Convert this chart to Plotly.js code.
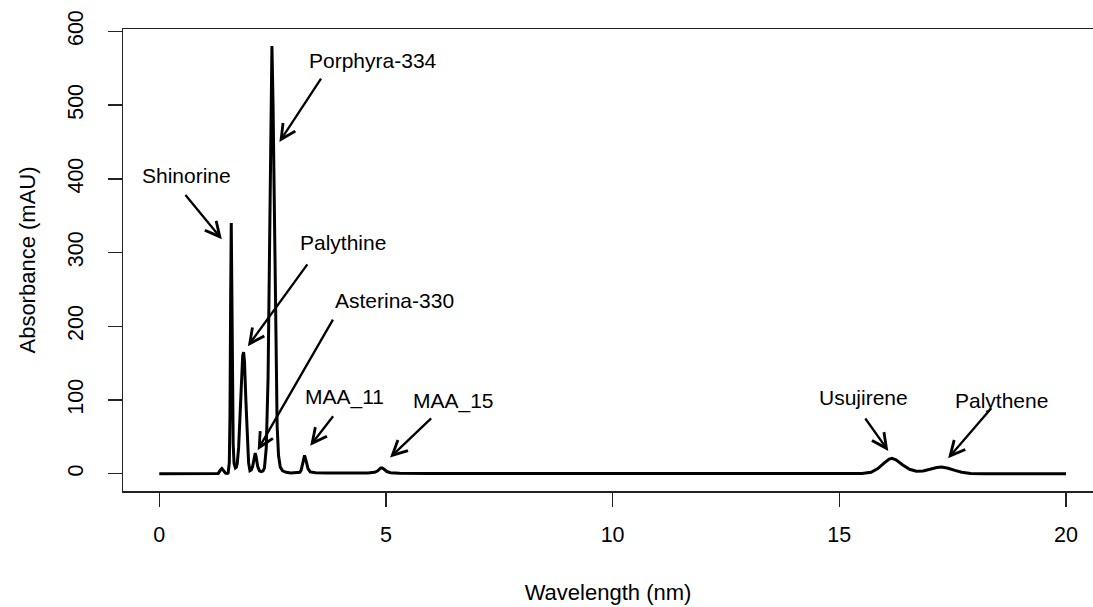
<!DOCTYPE html>
<html>
<head>
<meta charset="utf-8">
<script src="https://cdn.plot.ly/plotly-3.0.1.min.js"></script>
<style>
html,body{margin:0;padding:0;background:#fff;}
#chart{width:1093px;height:607px;}
</style>
</head>
<body>
<div id="chart"></div>
<script>
// Chromatogram trace
var wavelength = [0, 0.5, 1.0, 1.25, 1.30, 1.35, 1.38, 1.42, 1.46, 1.50,
  1.52, 1.545, 1.56, 1.575, 1.588, 1.60, 1.615, 1.63, 1.65, 1.68, 1.70,
  1.72, 1.75, 1.78, 1.81, 1.84, 1.86, 1.88, 1.91, 1.94, 1.97, 2.00, 2.03,
  2.06, 2.09, 2.117, 2.14, 2.17, 2.21, 2.25, 2.29,
  2.32, 2.36, 2.40, 2.43, 2.46, 2.485, 2.51, 2.54, 2.57, 2.60, 2.63, 2.67, 2.72, 2.8, 2.9, 3.0, 3.1,
  3.13, 3.17, 3.205, 3.24, 3.28, 3.33, 3.45, 3.7, 4.2, 4.6, 4.75,
  4.82, 4.88, 4.91, 4.96, 5.02, 5.1, 5.3, 6.0, 8.0, 12.0, 15.5,
  15.7, 15.85, 16.0, 16.1, 16.16, 16.25, 16.4, 16.55, 16.7, 16.85,
  17.0, 17.15, 17.26, 17.4, 17.55, 17.7, 17.9, 18.2, 20.0];
var absorbance = [0, 0, 0, 0, 0.5, 5, 7, 4, 0.8, 0.5,
  1, 15, 80, 240, 340, 255, 110, 40, 14, 8, 9,
  14, 35, 75, 130, 160, 165, 152, 100, 45, 15, 4, 5,
  10, 22, 28, 22, 10, 4, 3, 4,
  8, 35, 130, 290, 490, 580, 500, 330, 160, 65, 25, 9, 4, 2, 1, 1, 2,
  5, 16, 25, 17, 7, 2.5, 1.5, 1, 0.8, 1, 2,
  4, 7.5, 8, 6, 3, 1.5, 0.8, 0.5, 0.3, 0.2, 0.3,
  2, 7, 15, 20, 21, 19, 12, 6, 3.5, 3.8,
  6, 8.5, 9, 7.5, 4.5, 2, 0.5, 0, 0];

// Peak labels and arrows (data coordinates)
var labelNames = ["Shinorine", "Porphyra-334", "Palythine", "Asterina-330", "MAA_11", "MAA_15", "Usujirene", "Palythene"];
var labelX = [0.6, 4.72, 4.05, 5.18, 4.08, 6.50, 15.53, 18.58];
var labelY = [405, 561, 314, 235, 104, 99, 104, 99];
var arrowTailX = [0.55, 3.59, 3.29, 3.85, 3.86, 6.03, 15.55, 18.38];
var arrowTailY = [380, 538, 286, 211, 80, 77, 77, 91];
var arrowTipX = [1.38, 2.65, 1.955, 2.17, 3.33, 5.09, 16.08, 17.40];
var arrowTipY = [318, 450, 173, 32, 38, 22, 31, 21];

var xTicks = [0, 5, 10, 15, 20];
var yTicks = [0, 100, 200, 300, 400, 500, 600];

var FONT = "Liberation Sans, Arial, Helvetica, sans-serif";

var annotations = [];
for (var i = 0; i < labelNames.length; i++) {
  annotations.push({
    xref: 'x', yref: 'y', axref: 'x', ayref: 'y',
    x: arrowTipX[i], y: arrowTipY[i], ax: arrowTailX[i], ay: arrowTailY[i],
    text: '', showarrow: true, arrowhead: 5, arrowsize: 1.25, arrowwidth: 2.3,
    arrowcolor: '#000', standoff: 0, startstandoff: 0
  });
  annotations.push({
    xref: 'x', yref: 'y', x: labelX[i], y: labelY[i],
    text: labelNames[i], showarrow: false, xanchor: 'center', yanchor: 'middle',
    font: {family: FONT, size: 21, color: '#000'}
  });
}

var trace = {
  x: wavelength, y: absorbance, type: 'scatter', mode: 'lines',
  line: {color: '#000', width: 3}, hoverinfo: 'skip'
};

var layout = {
  width: 1093, height: 607,
  margin: {l: 122.7, r: 0, t: 29, b: 116, pad: 0},
  paper_bgcolor: '#fff', plot_bgcolor: '#fff',
  showlegend: false,
  font: {family: FONT, color: '#000', size: 21},
  xaxis: {
    range: [-0.8, 20.596], tickmode: 'array', tickvals: xTicks,
    ticks: 'outside', ticklen: 14, tickwidth: 1.4, tickcolor: '#222',
    showline: true, mirror: true, linecolor: '#222', linewidth: 1.5,
    showgrid: false, zeroline: false,
    tickfont: {family: FONT, size: 21.5, color: '#000'},
    ticklabelstandoff: 10,
    title: {text: 'Wavelength (nm)', font: {family: FONT, size: 22, color: '#000'}, standoff: 38},
    automargin: false
  },
  yaxis: {
    range: [-23.4, 603.2], tickmode: 'array', tickvals: yTicks,
    ticks: 'outside', ticklen: 14, tickwidth: 1.4, tickcolor: '#222',
    showline: true, mirror: false, linecolor: '#222', linewidth: 1.5,
    showgrid: false, zeroline: false, tickangle: -90,
    tickfont: {family: FONT, size: 21.5, color: '#000'},
    ticklabelstandoff: 16,
    title: {text: 'Absorbance (mAU)', font: {family: FONT, size: 22, color: '#000'}, standoff: 22},
    automargin: false
  },
  annotations: annotations
};

Plotly.newPlot('chart', [trace], layout, {staticPlot: true, displayModeBar: false});
</script>
</body>
</html>
